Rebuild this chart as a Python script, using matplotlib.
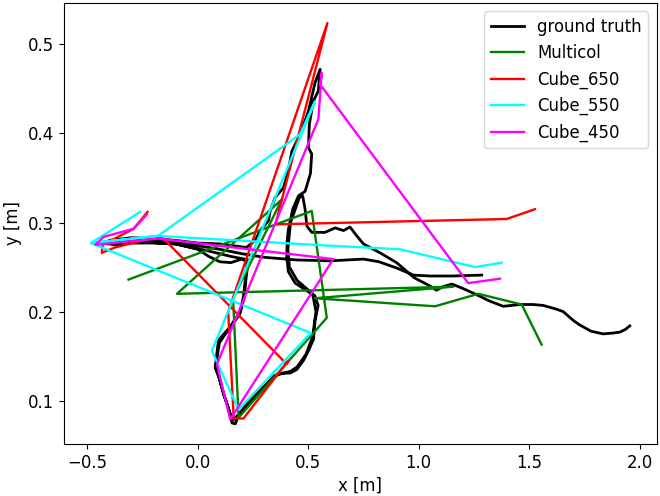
import matplotlib
matplotlib.use("Agg")
import matplotlib.pyplot as plt

# ground truth trajectory (several laps around the same loop, then a tail)
gt_x = [1.285, 1.15, 1.05, 0.976, 0.9, 0.82, 0.75, 0.6, 0.45, 0.3, 0.2, 0.1, 0.0, -0.1, -0.2, -0.3, -0.38, -0.415,
        -0.38, -0.3, -0.2, -0.1, 0.0, 0.05, 0.10, 0.15, 0.2, 0.223,
        0.215, 0.207, 0.192, 0.147, 0.094, 0.079, 0.102, 0.117, 0.139, 0.155, 0.17, 0.184, 0.222, 0.283, 0.343,
        0.373, 0.418, 0.448, 0.478, 0.501, 0.524, 0.531, 0.545, 0.53, 0.509, 0.441, 0.41, 0.403, 0.405, 0.41,
        0.43, 0.456,
        0.486, 0.51, 0.516, 0.501, 0.505, 0.523, 0.546, 0.554, 0.531, 0.501, 0.463, 0.426, 0.41, 0.388, 0.35,
        0.328, 0.32, 0.283, 0.26, 0.22,
        0.1, 0.0, -0.1, -0.2, -0.3, -0.4, -0.41,
        -0.3, -0.1, 0.05, 0.15, 0.23,
        0.22, 0.21, 0.19, 0.14, 0.098, 0.083, 0.105, 0.14, 0.16, 0.19, 0.23, 0.29, 0.345, 0.42, 0.45, 0.49,
        0.52, 0.535, 0.52, 0.45, 0.415, 0.408, 0.42, 0.46, 0.475,
        0.486, 0.494, 0.516, 0.576, 0.622, 0.66, 0.689, 0.72, 0.75, 0.825, 0.9, 0.98, 1.05, 1.08, 1.11, 1.15,
        1.2, 1.262, 1.32, 1.382, 1.458, 1.518, 1.563, 1.62, 1.654, 1.7, 1.729, 1.78, 1.835, 1.88, 1.91, 1.935,
        1.955]
gt_y = [0.241, 0.240, 0.240, 0.241, 0.249, 0.256, 0.259, 0.257, 0.258, 0.261, 0.265, 0.270, 0.274, 0.278,
        0.280, 0.281, 0.280, 0.277,
        0.275, 0.277, 0.277, 0.276, 0.270, 0.262, 0.256, 0.255, 0.259, 0.256,
        0.235, 0.217, 0.200, 0.183, 0.168, 0.137, 0.122, 0.107, 0.092, 0.075, 0.074, 0.083, 0.096, 0.111, 0.126,
        0.131, 0.131, 0.135, 0.145, 0.156, 0.169, 0.190, 0.207, 0.218, 0.221, 0.232, 0.245, 0.262, 0.280, 0.292,
        0.315, 0.330,
        0.335, 0.355, 0.377, 0.384, 0.410, 0.436, 0.448, 0.472, 0.457, 0.425, 0.399, 0.380, 0.358, 0.339, 0.328,
        0.313, 0.302, 0.291, 0.280, 0.272,
        0.276, 0.277, 0.280, 0.282, 0.283, 0.280, 0.276,
        0.279, 0.276, 0.268, 0.262, 0.258,
        0.240, 0.215, 0.197, 0.180, 0.165, 0.140, 0.118, 0.090, 0.078, 0.086, 0.098, 0.113, 0.128, 0.133, 0.138,
        0.152, 0.172, 0.200, 0.220, 0.235, 0.250, 0.270, 0.300, 0.328, 0.330,
        0.315, 0.296, 0.289, 0.289, 0.294, 0.291, 0.295, 0.285, 0.276, 0.266, 0.255, 0.238, 0.229, 0.224, 0.228,
        0.231, 0.226, 0.219, 0.212, 0.206, 0.208, 0.208, 0.207, 0.203, 0.200, 0.190, 0.185, 0.178, 0.175, 0.176,
        0.177, 0.180, 0.184]

multicol_x = [-0.313, 0.516, 0.584, 0.185, 0.16, 0.381, -0.094, 1.157, 0.53, 1.074, 1.27, 1.466, 1.556]
multicol_y = [0.236, 0.313, 0.193, 0.081, 0.215, 0.326, 0.220, 0.228, 0.215, 0.206, 0.220, 0.208, 0.163]

cube650_x = [-0.227, -0.29, -0.43, -0.434, -0.375, -0.18, -0.155, 0.403, 0.41, 0.207, 0.163, 0.138, 0.587,
             0.352, 1.398, 1.526]
cube650_y = [0.312, 0.293, 0.275, 0.266, 0.272, 0.284, 0.282, 0.141, 0.145, 0.080, 0.080, 0.200, 0.524,
             0.298, 0.304, 0.315]

cube550_x = [-0.26, -0.483, -0.18, 0.463, 0.531, 0.064, 0.185, 0.512, -0.483, -0.18, 0.6, 0.915, 1.255, 1.375]
cube550_y = [0.312, 0.277, 0.285, 0.399, 0.436, 0.156, 0.090, 0.176, 0.277, 0.285, 0.274, 0.270, 0.250, 0.255]

cube450_x = [-0.23, -0.29, -0.425, -0.463, -0.18, 0.614, 0.147, 0.087, 0.546, 0.561, 0.554, 1.224, 1.368]
cube450_y = [0.309, 0.293, 0.284, 0.275, 0.282, 0.259, 0.079, 0.141, 0.416, 0.468, 0.455, 0.232, 0.237]

plt.rcParams.update({'font.size': 11.9})
fig, ax = plt.subplots(figsize=(6.6, 4.96), dpi=100)
fig.subplots_adjust(left=0.097, right=0.995, bottom=0.105, top=0.994)

ax.plot(gt_x, gt_y, color='black', lw=2.0, label='ground truth')
ax.plot(multicol_x, multicol_y, color='green', lw=1.7, label='Multicol')
ax.plot(cube650_x, cube650_y, color='red', lw=1.7, label='Cube_650')
ax.plot(cube550_x, cube550_y, color='cyan', lw=1.7, label='Cube_550')
ax.plot(cube450_x, cube450_y, color='magenta', lw=1.7, label='Cube_450')

ax.set_xlabel('x [m]')
ax.set_ylabel('y [m]')
ax.legend(loc='upper right')

fig.savefig('out.png')
